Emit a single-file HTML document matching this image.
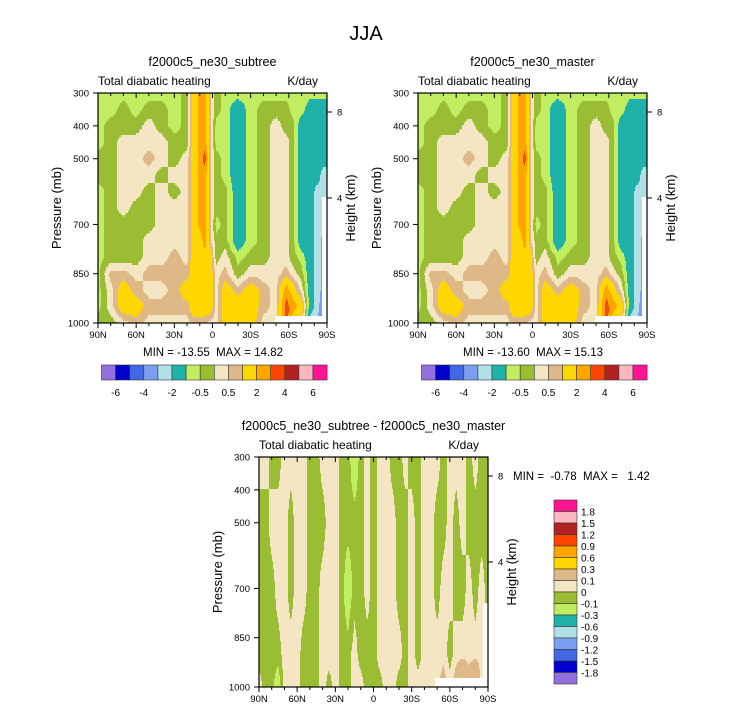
<!DOCTYPE html>
<html><head><meta charset="utf-8">
<style>
body{margin:0;background:#fff;}
svg{display:block;font-family:"Liberation Sans",Arial,sans-serif;}
text{white-space:pre;}
</style></head>
<body>
<svg id="s" width="733" height="711" viewBox="0 0 733 711" xmlns="http://www.w3.org/2000/svg">
<text x="366" y="40" font-size="20" text-anchor="middle">JJA</text>
</svg>
<script>
// ---- data ----
const topLats = [90,80,70,60,50,40,30,20,15,10,6,2,-3,-10,-20,-30,-40,-50,-58,-63,-70,-77,-83,-87,-90];
const topPres = [300,350,400,450,500,550,600,650,700,750,800,850,900,950,1000];
const topCols = [
[-0.7,-0.7,-0.7,-0.7,-0.3,-0.3,-0.7,-0.7,-0.7,-0.7,-0.7,-0.7,-0.7,-0.7,-0.3],
[-0.7,-0.7,-0.3,-0.3,-0.3,-0.3,-0.3,-0.3,-0.3,-0.3,-0.3,0.7,0.3,0.3,-0.3],
[-0.7,-0.3,-0.3,0.3,0.3,0.3,0.3,0.3,-0.3,-0.3,-0.3,0.7,1.5,1.5,0.3],
[-0.7,-0.7,-0.3,0.3,0.3,0.3,0.3,-0.3,-0.3,-0.3,-0.3,0.3,0.7,1.5,0.7],
[-0.7,-0.3,0.3,0.3,0.7,0.3,-0.3,-0.3,-0.3,0.3,0.3,0.7,0.3,0.7,0.3],
[-0.7,-0.3,-0.3,0.3,0.3,-0.3,0.3,0.3,0.3,0.3,0.3,0.7,0.3,0.7,0.3],
[-0.7,-0.7,-0.7,-0.3,-0.3,0.3,-0.3,0.3,0.3,0.3,0.7,0.7,0.7,0.7,0.3],
[-0.3,-0.3,-0.3,-0.3,0.3,0.3,0.3,0.3,0.3,0.3,0.3,0.7,1.5,0.7,0.3],
[1.5,1.5,1.5,1.5,1.5,1.5,1.5,1.5,1.5,1.5,1.5,1.5,1.5,1.5,0.7],
[2.2,2.2,2.2,2.2,2.2,2.2,2.2,2.2,2.2,1.5,1.5,1.5,1.5,1.5,0.7],
[2.5,2.5,2.5,2.5,3.5,2.5,2.5,2.5,2.5,2.5,1.5,1.5,1.5,1.5,0.7],
[0.7,0.7,0.7,0.7,0.7,0.7,0.7,0.7,0.7,0.7,1.5,1.5,1.5,1.5,0.3],
[-0.3,-0.3,-0.7,-0.7,-0.3,-0.3,-0.3,-0.3,-0.7,-0.3,-0.3,0.3,0.3,0.3,0.3],
[-0.7,-0.7,-0.7,-0.7,-0.7,-0.7,-0.3,-0.3,-0.3,-0.3,0.3,0.7,1.5,1.5,1.5],
[-0.7,-1.5,-1.5,-1.5,-1.5,-1.5,-1.5,-1.5,-1.5,-1.5,-0.7,-0.3,0.7,1.5,1.5],
[-0.7,-0.7,-0.7,-0.7,-0.7,-0.7,-0.7,-0.7,-0.7,-0.7,-0.3,0.3,1.5,1.5,1.5],
[-0.7,-0.3,-0.3,-0.3,-0.3,-0.3,-0.3,-0.3,-0.3,-0.3,-0.3,0.3,0.7,0.7,0.3],
[-0.7,-0.3,0.3,0.3,0.3,0.3,0.3,0.3,0.3,0.3,0.3,0.3,0.3,0.3,0.3],
[-0.7,-0.3,-0.3,0.3,0.3,0.3,0.3,0.3,0.3,0.3,0.3,0.7,2.5,3.5,3.5],
[-0.7,-0.7,-0.3,-0.3,-0.3,-0.3,-0.3,-0.3,-0.3,-0.3,-0.3,0.3,1.5,2.5,1.5],
[-0.7,-0.7,-1.5,-1.5,-1.5,-1.5,-1.5,-1.5,-1.5,-1.5,-0.7,-0.3,0.3,1.5,0.7],
[-0.7,-1.5,-1.5,-1.5,-1.5,-1.5,-1.5,-1.5,-1.5,-1.5,-1.5,-1.5,-1.5,-1.5,-2.5],
[-0.7,-1.5,-1.5,-1.5,-1.5,-1.5,-2.5,-2.5,-2.5,-2.5,-2.5,-2.5,-2.5,-2.5,-3.5],
[-0.7,-1.5,-1.5,-1.5,-1.5,-2.5,-2.5,-2.5,-2.5,-3.5,-3.5,-3.5,-3.5,-4.5,-4.5],
[-0.7,-1.5,-1.5,-1.5,-1.5,-2.5,-2.5,-3.5,-3.5,-3.5,-4.5,-4.5,-4.5,-4.5,-4.5]
];
const topLevels = [-6,-5,-4,-3,-2,-1,-0.5,0,0.5,1,2,3,4,5,6];
const topLabels = ["-6","-4","-2","-0.5","0.5","2","4","6"];
const diffLevels = [-1.8,-1.5,-1.2,-0.9,-0.6,-0.3,-0.1,0,0.1,0.3,0.6,0.9,1.2,1.5,1.8];
const diffLabels = ["1.8","1.5","1.2","0.9","0.6","0.3","0.1","0","-0.1","-0.3","-0.6","-0.9","-1.2","-1.5","-1.8"];
const palette = ["#9370db","#0000cd","#4169e1","#7b9ff0","#b0e0e6","#20b2aa","#c0ee60","#9abd34","#f5e6c3","#deb887","#ffd700","#ffa500","#ff4500","#b22222","#ffb6c1","#ff1493"];
const diffLats = [90,85,80,75,70,65,60,55,50,45,40,35,30,25,20,15,10,5,0,-5,-10,-15,-20,-25,-30,-35,-40,-45,-50,-55,-60,-65,-70,-75,-80,-85,-90];
const diffPres = [300,500,700,900,1000];
const T=0.05, D=-0.05, G=-0.2;
const diffCols = [
[T,D,D,D,T],[T,D,D,D,D],[D,T,D,D,D],[D,T,T,D,G],[T,T,T,T,T],[T,D,D,T,T],[T,T,T,T,T],[T,T,T,D,D],
[D,D,D,D,D],[D,D,D,D,D],[T,D,T,T,T],[T,T,T,T,D],[T,T,T,T,T],[D,D,D,D,D],[D,D,G,D,D],[G,D,D,T,T],
[D,D,D,D,T],[T,T,T,D,D],[D,D,D,D,D],[T,T,T,T,D],[T,T,T,T,T],[D,T,T,T,T],[D,D,D,T,D],[T,D,D,D,D],
[D,T,T,T,T],[D,D,D,D,T],[T,T,T,T,T],[T,T,T,T,T],[T,D,D,T,T],[D,D,T,T,0.2],[T,T,T,D,T],[T,D,D,T,0.2],
[T,T,D,T,0.4],[D,D,T,T,0.2],[T,D,D,T,0.4],[D,D,T,T,T],[D,D,D,D,D]
];

// ---- rendering ----
const svg = document.getElementById('s');
const NS = 'http://www.w3.org/2000/svg';
function mk(tag, attrs, parent){const e=document.createElementNS(NS,tag);for(const k in attrs)e.setAttribute(k,attrs[k]);(parent||svg).appendChild(e);return e;}
function txt(x,y,s,size,anchor,parent){const e=mk('text',{x:x,y:y,'font-size':size,'text-anchor':anchor||'middle'},parent);e.textContent=s;return e;}
function classify(v,levels){let k=0;for(const b of levels){if(v>=b)k++;}return k;}
function sample(lats,pres,cols,lat,p){
  let i=0;while(i<lats.length-2&&lat<lats[i+1])i++;
  let j=0;while(j<pres.length-2&&p>pres[j+1])j++;
  const tx=(lats[i]-lat)/(lats[i]-lats[i+1]);
  const ty=(p-pres[j])/(pres[j+1]-pres[j]);
  const a=cols[i][j],b=cols[i+1][j],c=cols[i][j+1],d=cols[i+1][j+1];
  return (a*(1-tx)+b*tx)*(1-ty)+(c*(1-tx)+d*tx)*ty;
}
function panel(o){
  const g=mk('g',{});
  
  
  const x0=o.x,y0=o.y,w=o.w,h=o.h;
  const xS=lat=>x0+(90-lat)/180*w, yS=p=>y0+(p-300)/700*h;
  const fg=mk('g',{},g);
  
  
  for(let py=0;py<h;py+=2){
    const p=300+(py+1)/h*700;
    let start=0,cur=-1;
    for(let px=0;px<=w;px++){
      let k=-2;
      if(px<w){const lat=90-(px+0.5)/w*180;k=classify(sample(o.lats,o.pres,o.cols,lat,p),o.levels);}
      if(k!==cur){
        if(cur>=0){
          const r=mk('rect',{x:x0+start,y:y0+py,width:px-start,height:Math.min(2,h-py)+0.3,fill:palette[cur]},fg);
          
          
        }
        start=px;cur=k;
      }
    }
  }
  for(const m of o.masks){
    const pg=mk('polygon',{points:m,fill:'#fff'},g);
    
    
  }
  const fr=mk('rect',{x:x0,y:y0,width:w,height:h,fill:'none',stroke:'#000','stroke-width':1.2},g);
  
  
  for(let lat=90;lat>=-90;lat-=10){
    const x=xS(lat),major=lat%30===0;const L=major?5:3;
    mk('line',{x1:x,y1:y0+h,x2:x,y2:y0+h+L,stroke:'#000'},g);
    mk('line',{x1:x,y1:y0,x2:x,y2:y0+L,stroke:'#000'},g);
    if(major){const t=txt(x,y0+h+15,lat===0?'0':Math.abs(lat)+(lat>0?'N':'S'),9.5,'middle',g);
      }
  }
  for(const p of [300,400,500,700,850,1000]){
    const y=yS(p);mk('line',{x1:x0-5,y1:y,x2:x0,y2:y,stroke:'#000'},g);
    const t=txt(x0-9,y+3.5,String(p),9.5,'end',g);
    
  }
  for(const [hk,y] of [['8',y0+19],['4',y0+105]]){
    mk('line',{x1:x0+w,y1:y,x2:x0+w+5,y2:y,stroke:'#000'},g);
    const t=txt(x0+w+10,y+3.5,hk,9.5,'start',g);
    
  }
  const yt=txt(0,0,'Pressure (mb)',13,'middle',g);
  yt.setAttribute('transform',`translate(${x0-37},${y0+h/2}) rotate(-90)`);
  
  const ht=txt(0,0,'Height (km)',13,'middle',g);
  ht.setAttribute('transform',`translate(${x0+w+28},${y0+h/2}) rotate(-90)`);
  
  const t1=txt(x0+w/2,y0-27,o.title,12.5,'middle',g);
  
  const t2=txt(x0,y0-8,'Total diabatic heating',12,'start',g);
  
  const t3=txt(x0+w-9,y0-8,'K/day',12,'end',g);
  
  const t4=txt(o.mmx,o.mmy,o.minmax,11.5,o.mma,g);
  
}
function hbar(x0,y0,name){
  const g=mk('g',{});
  const bw=14.1;
  palette.forEach((c,i)=>{const r=mk('rect',{x:x0+i*bw,y:y0,width:bw,height:15,fill:c,stroke:'#333','stroke-width':0.6},g);
    });
  topLabels.forEach((s,i)=>{const t=txt(x0+(2*i+1)*bw,y0+31,s,10,'middle',g);
    });
}
const mask1=(dx)=>[`${275+dx},316 ${322+dx},316 ${322+dx},197 ${327+dx},197 ${327+dx},323 ${275+dx},323`];
panel({name:'panel-subtree',x:98,y:93,w:229,h:230,lats:topLats,pres:topPres,cols:topCols,levels:topLevels,masks:mask1(0),
  title:'f2000c5_ne30_subtree',minmax:'MIN = -13.55  MAX = 14.82',mmx:213,mmy:356,mma:'middle'});
panel({name:'panel-master',x:418,y:93,w:229,h:230,lats:topLats,pres:topPres,cols:topCols,levels:topLevels,masks:mask1(320),
  title:'f2000c5_ne30_master',minmax:'MIN = -13.60  MAX = 15.13',mmx:533,mmy:356,mma:'middle'});
hbar(101.5,365,'colorbar-left');
hbar(421.5,365,'colorbar-right');
panel({name:'panel-difference',x:259,y:457,w:229,h:230,lats:diffLats,pres:diffPres,cols:diffCols,levels:diffLevels,
  masks:['435,678 483,678 483,603 488,603 488,687 435,687'],
  title:'f2000c5_ne30_subtree - f2000c5_ne30_master',minmax:'MIN =  -0.78  MAX =   1.42',mmx:513,mmy:480,mma:'start'});
(function(){
  const g=mk('g',{});
  const bh=11.5,x0=554,y0=500;
  for(let i=0;i<16;i++){const c=palette[15-i];
    const r=mk('rect',{x:x0,y:y0+i*bh,width:23,height:bh,fill:c,stroke:'#333','stroke-width':0.6},g);
    }
  diffLabels.forEach((s,i)=>{const t=txt(x0+27,y0+(i+1)*bh+4,s,10,'start',g);
    });
})();
</script>
</body></html>
